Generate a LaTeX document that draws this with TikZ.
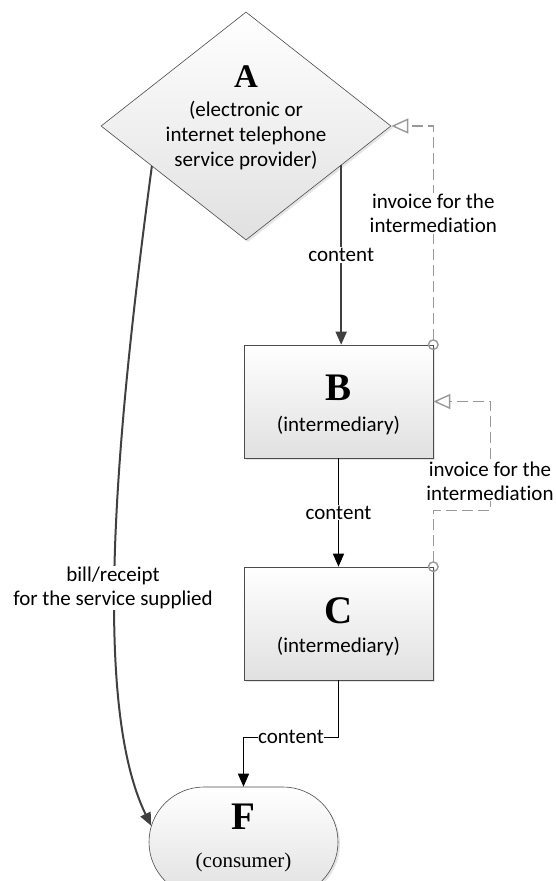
\documentclass[tikz,border=0pt]{standalone}
\usepackage{fontspec}
\setmainfont{Liberation Serif}
\newfontfamily\calfont[Ligatures=NoCommon]{Carlito}
\usetikzlibrary{shapes.geometric,shapes.misc,arrows.meta,calc,shadows}
\begin{document}
\begin{tikzpicture}[x=1pt,y=-1pt,
  shapebox/.style={draw=black!70, line width=0.6pt, top color=white, bottom color=black!12,
    drop shadow={shadow xshift=2pt,shadow yshift=-2pt,fill=black!20}},
  bigletter/.style={font=\bfseries\fontsize{39}{39}\selectfont, inner sep=0pt},
  lab/.style={font=\calfont\fontsize{21}{24}\selectfont, align=center, inner sep=1pt},
  serlab/.style={font=\fontsize{21}{24}\selectfont, inner sep=1pt},
  darkarrow/.style={draw=black!75, line width=2pt, -{Triangle[length=13pt,width=11pt]}},
  blackarrow/.style={draw=black, line width=1.4pt, -{Triangle[length=13pt,width=11pt]}},
  invoice/.style={draw=black!40, line width=1.4pt, dash pattern=on 11pt off 5pt,
    {Circle[open,length=11pt,width=11pt]}-{Triangle[open,length=17pt,width=15pt]}, shorten <=-5.5pt},
]
\useasboundingbox (0,0) rectangle (556,881);
\clip (0,0) rectangle (556,881);

% nodes
\node[diamond, shapebox, minimum width=290pt, minimum height=228pt, inner sep=0pt] (A) at (246,126) {};
\node[bigletter, font=\bfseries\fontsize{33}{33}\selectfont] (Al) at (246,77) {A};
\node[lab, font=\calfont\fontsize{21}{25}\selectfont] (At) at (246,136) {(electronic or\\internet telephone\\service provider)};

\node[rectangle, shapebox, minimum width=189pt, minimum height=113pt, inner sep=0pt] (B) at (338.5,401.5) {};
\node[bigletter] (Bl) at (338.5,388) {B};
\node[lab] (Bt) at (338.5,426) {(intermediary)};

\node[rectangle, shapebox, minimum width=189pt, minimum height=113pt, inner sep=0pt] (C) at (338.5,623.5) {};
\node[bigletter] (Cl) at (338.5,611) {C};
\node[lab] (Ct) at (338.5,647) {(intermediary)};

\node[rounded rectangle, shapebox, minimum width=189pt, minimum height=110pt, inner sep=0pt] (F) at (243.5,842) {};
\node[bigletter] (Fl) at (243.5,817) {F};
\node[serlab] (Ft) at (243.5,862) {(consumer)};

% content arrows
\coordinate (a1) at ($(A.east)!0.345!(A.south)$);
\draw[darkarrow] (a1) -- node[lab, fill=white] (l1) {content} (a1 |- B.north);
\draw[blackarrow] (B.south) -- node[lab, fill=white] (l2) {content} (C.north);
\draw[blackarrow] (C.south) -- ++(0,57) -| node[pos=0.25, lab, fill=white, inner sep=0.5pt] (l3) {content} (F.north);

% bill curve
\coordinate (a2) at ($(A.west)!0.352!(A.south)$);
\draw[darkarrow] (a2) .. controls (118,420) and (90,700) .. (F.170);
\node[lab, fill=white] (bill) at (113,588) {bill/receipt\\for the service supplied};

% invoices
\draw[invoice] (B.north east) |- node[pos=0.3, lab, fill=white] (inv1) {invoice for the\\intermediation} (A.east);
\coordinate (k) at ($(B.east)+(57,0)$);
\draw[invoice] (C.north east) -- ++(0,-56) -| (k) -- (B.east);
\node[lab, fill=white] (inv2) at (490,481) {invoice for the\\intermediation};
\end{tikzpicture}
\end{document}
